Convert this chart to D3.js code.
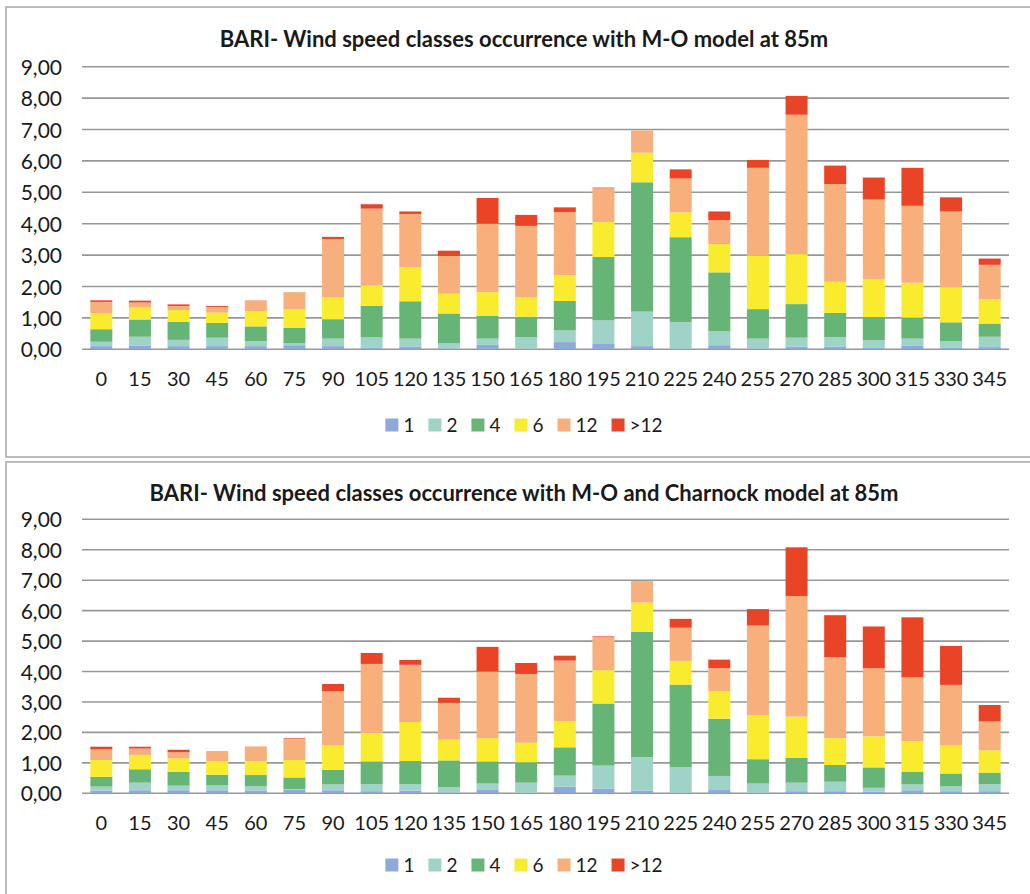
<!DOCTYPE html>
<html>
<head>
<meta charset="utf-8">
<script src="https://cdn.jsdelivr.net/npm/d3@7/dist/d3.min.js"></script>
<style>
  html, body { margin: 0; padding: 0; background: #ffffff; }
  svg { display: block; }
  text { font-family: Lato, "Open Sans", sans-serif; fill: #1a1a1a; }
</style>
</head>
<body>
<svg id="chart" width="1030" height="894"></svg>
<script>
// ---------- DATA ----------
const directions = ["0","15","30","45","60","75","90","105","120","135","150","165","180","195","210","225","240","255","270","285","300","315","330","345"];
const classes = ["1","2","4","6","12",">12"];
const classColors = ["#8eaadb","#9fd3c7","#67b576","#f9ec2e","#f7b07c","#ea4427"];
const yTicks = [0,1,2,3,4,5,6,7,8,9];

const titleMO = "BARI- Wind speed classes occurrence with M-O model at 85m";
const titleMOC = "BARI- Wind speed classes occurrence with M-O and Charnock model at 85m";

// M-O model: occurrence per class, one array per class (order of directions)
const mo_1    = [0.10,0.12,0.10,0.10,0.10,0.13,0.10,0.06,0.09,0.03,0.14,0.02,0.23,0.17,0.10,0.02,0.13,0.03,0.08,0.08,0.06,0.11,0.06,0.07];
const mo_2    = [0.14,0.28,0.20,0.27,0.16,0.06,0.24,0.32,0.25,0.16,0.20,0.36,0.37,0.75,1.10,0.85,0.45,0.31,0.29,0.31,0.23,0.23,0.20,0.33];
const mo_4    = [0.40,0.55,0.57,0.47,0.47,0.49,0.62,1.00,1.19,0.95,0.73,0.66,0.94,2.02,4.12,2.70,1.87,0.94,1.07,0.77,0.74,0.67,0.60,0.42];
const mo_6    = [0.50,0.38,0.38,0.33,0.49,0.59,0.69,0.65,1.08,0.63,0.75,0.61,0.82,1.11,0.94,0.79,0.90,1.70,1.59,0.99,1.21,1.11,1.11,0.77];
const mo_12   = [0.37,0.16,0.13,0.18,0.32,0.55,1.86,2.45,1.70,1.20,2.18,2.28,2.01,1.08,0.71,1.08,0.76,2.80,4.44,3.11,2.53,2.45,2.42,1.10];
const mo_gt12 = [0.05,0.06,0.05,0.03,0.01,0.00,0.07,0.14,0.08,0.17,0.82,0.35,0.15,0.02,0.00,0.29,0.28,0.25,0.60,0.59,0.70,1.21,0.45,0.20];

// M-O and Charnock model
const moc_1    = [0.09,0.10,0.10,0.10,0.09,0.12,0.10,0.07,0.09,0.03,0.13,0.02,0.22,0.16,0.09,0.02,0.11,0.02,0.07,0.07,0.05,0.10,0.07,0.07];
const moc_2    = [0.13,0.25,0.15,0.16,0.14,0.02,0.19,0.23,0.21,0.17,0.19,0.33,0.36,0.75,1.10,0.84,0.46,0.30,0.28,0.31,0.13,0.19,0.16,0.23];
const moc_4    = [0.32,0.44,0.46,0.35,0.37,0.38,0.48,0.75,0.76,0.88,0.73,0.67,0.93,2.04,4.12,2.71,1.88,0.80,0.81,0.55,0.67,0.41,0.42,0.38];
const moc_6    = [0.55,0.47,0.44,0.44,0.45,0.57,0.80,0.93,1.28,0.68,0.76,0.64,0.86,1.09,0.96,0.78,0.90,1.44,1.36,0.88,1.02,1.01,0.92,0.73];
const moc_12   = [0.35,0.21,0.20,0.32,0.49,0.70,1.78,2.27,1.88,1.21,2.19,2.26,1.99,1.10,0.70,1.09,0.76,2.95,3.96,2.66,2.24,2.10,1.99,0.95];
const moc_gt12 = [0.09,0.06,0.08,0.01,0.00,0.02,0.24,0.36,0.16,0.17,0.81,0.36,0.16,0.02,0.00,0.29,0.28,0.54,1.60,1.38,1.37,1.97,1.28,0.54];

// ---------- DRAW ----------
const svg = d3.select("#chart");

function buildRows(series) {
  return directions.map((d, i) => {
    const row = { dir: d };
    classes.forEach((c, k) => { row[c] = series[k][i]; });
    return row;
  });
}

function fmt(v) { return d3.format(".2f")(v).replace(".", ","); }

function drawPanel(cfg) {
  const g = svg.append("g");

  // frame
  g.append("rect")
    .attr("x", cfg.frame[0]).attr("y", cfg.frame[1])
    .attr("width", cfg.frame[2]).attr("height", cfg.frame[3])
    .attr("fill", "#ffffff").attr("stroke", "#a6a6a6").attr("stroke-width", 1.5);

  const x = d3.scaleBand().domain(directions).range([82, 1009]).paddingInner(0.43).paddingOuter(0.215);
  const y = d3.scaleLinear().domain([0, 9]).range([cfg.y0, cfg.y9]);

  // title
  g.append("text")
    .attr("x", 524).attr("y", cfg.titleY)
    .attr("text-anchor", "middle")
    .attr("font-weight", "bold").attr("font-size", "22px")
    .text(cfg.title);

  // gridlines
  g.append("g").selectAll("line").data(yTicks).join("line")
    .attr("x1", 82).attr("x2", 1009)
    .attr("y1", d => y(d)).attr("y2", d => y(d))
    .attr("stroke", "#979797").attr("stroke-width", 1.6);

  // y axis labels
  const yAxis = d3.axisLeft(y).tickValues(yTicks).tickFormat(fmt).tickSize(0).tickPadding(0);
  const ya = g.append("g").attr("transform", "translate(62,0)").call(yAxis);
  ya.select(".domain").remove();
  ya.selectAll("text").attr("font-size", "21px").attr("font-family", "Lato, sans-serif").attr("fill", "#1a1a1a").attr("dy", "0.36em");

  // stacked bars
  const rows = buildRows(cfg.series);
  const stack = d3.stack().keys(classes)(rows);
  g.append("g").selectAll("g").data(stack).join("g")
    .attr("fill", (d, i) => classColors[i])
    .selectAll("rect").data(d => d).join("rect")
    .attr("x", d => x(d.data.dir))
    .attr("width", x.bandwidth())
    .attr("y", d => y(d[1]))
    .attr("height", d => Math.max(0, y(d[0]) - y(d[1])));

  // x axis labels
  const xAxis = d3.axisBottom(x).tickSize(0).tickPadding(0);
  const xa = g.append("g").attr("transform", `translate(0,${cfg.y0 + 29})`).call(xAxis);
  xa.select(".domain").remove();
  xa.selectAll("text").attr("font-size", "20px").attr("font-family", "Lato, sans-serif").attr("fill", "#1a1a1a").attr("dy", "0.36em");

  // legend
  const lg = g.append("g");
  let cx = 0;
  classes.forEach((c, i) => {
    const it = lg.append("g");
    it.append("rect").attr("x", cx).attr("y", -6.5).attr("width", 13).attr("height", 13).attr("fill", classColors[i]);
    const t = it.append("text").attr("x", cx + 18).attr("y", 0).attr("dy", "0.36em").attr("font-size", "19px").text(c);
    const w = t.node().getComputedTextLength();
    cx += 18 + w + 14;
  });
  const total = cx - 14;
  lg.attr("transform", `translate(${524 - total / 2},${cfg.legendY})`);
}

drawPanel({
  frame: [6, 7, 1040, 450],
  title: titleMO, titleY: 47,
  y0: 349.3, y9: 66.7,
  legendY: 425,
  series: [mo_1, mo_2, mo_4, mo_6, mo_12, mo_gt12]
});

drawPanel({
  frame: [6, 462, 1040, 460],
  title: titleMOC, titleY: 501,
  y0: 793.3, y9: 519.3,
  legendY: 865,
  series: [moc_1, moc_2, moc_4, moc_6, moc_12, moc_gt12]
});
</script>
</body>
</html>
